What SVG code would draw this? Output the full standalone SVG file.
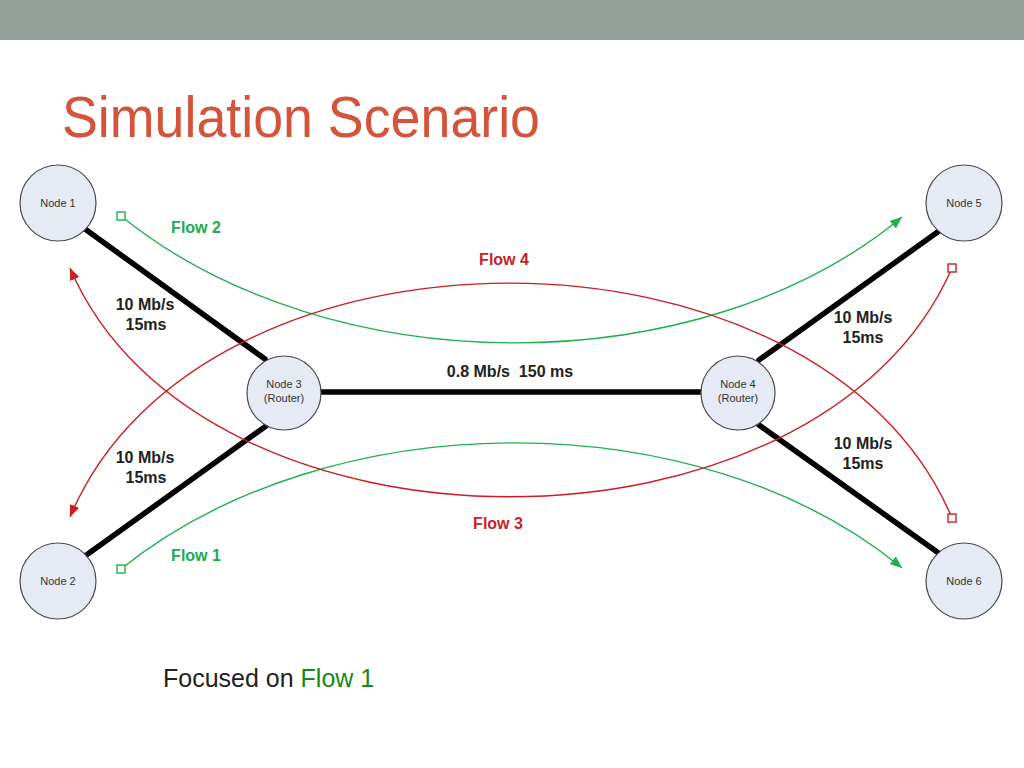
<svg xmlns="http://www.w3.org/2000/svg" width="1024" height="768" viewBox="0 0 1024 768">
<defs>
<style>
.node circle{fill:#E5EAF4;stroke:#4a4a4a;stroke-width:1.2}
.node text{font-family:"Liberation Sans",Arial,sans-serif;font-size:11px;fill:#333;text-anchor:middle}
.link{stroke:#000;stroke-width:5.5;stroke-linecap:round;fill:none}
.lbl{font-family:"Liberation Sans",Arial,sans-serif;font-size:16px;font-weight:bold;fill:#222;text-anchor:middle}
.g{stroke:#22B04F;stroke-width:1.4;fill:none}
.r{stroke:#C81E24;stroke-width:1.4;fill:none}
.gsq{stroke:#22B04F;stroke-width:1.4;fill:#fff}
.rsq{stroke:#C81E24;stroke-width:1.4;fill:#fff}
.gl{font-family:"Liberation Sans",Arial,sans-serif;font-size:16px;font-weight:bold;fill:#22AA50;text-anchor:middle}
.rl{font-family:"Liberation Sans",Arial,sans-serif;font-size:16px;font-weight:bold;fill:#C81E24;text-anchor:middle}
</style>
<marker id="ag" markerUnits="userSpaceOnUse" markerWidth="12" markerHeight="10" refX="12" refY="5" orient="auto"><path d="M0,0 L12,5 L0,10 z" fill="#22B04F"/></marker>
<marker id="ar" markerUnits="userSpaceOnUse" markerWidth="12" markerHeight="10" refX="12" refY="5" orient="auto"><path d="M0,0 L12,5 L0,10 z" fill="#C81E24"/></marker>
</defs>
<rect x="0" y="0" width="1024" height="768" fill="#fff"/>
<rect x="0" y="0" width="1024" height="40" fill="#94A19A"/>
<text x="62" y="137" font-family="'Liberation Sans',Arial,sans-serif" font-size="58" fill="#D4533A" textLength="478" lengthAdjust="spacingAndGlyphs">Simulation Scenario</text>

<g id="connectors">
<line class="link" x1="85" y1="229" x2="265" y2="359"/>
<line class="link" x1="85" y1="556" x2="266" y2="426"/>
<line class="link" x1="321" y1="392" x2="700" y2="392"/>
<line class="link" x1="759" y1="360" x2="939" y2="231"/>
<line class="link" x1="759" y1="425" x2="940" y2="554"/>
<path class="g" d="M121,216 C330,385 700,385 902,217" marker-end="url(#ag)"/>
<path class="g" d="M121,569 C330,401 700,401 902,568" marker-end="url(#ag)"/>
<path class="r" d="M952,518 C819,205 200,205 70,517" marker-end="url(#ar)"/>
<path class="r" d="M952,268 C819,573 200,573 70,268" marker-end="url(#ar)"/>
<rect class="gsq" x="117" y="212" width="8" height="8"/>
<rect class="gsq" x="117" y="565" width="8" height="8"/>
<rect class="rsq" x="948" y="264" width="8" height="8"/>
<rect class="rsq" x="948" y="514" width="8" height="8"/>
<text class="lbl" x="145" y="310">10 Mb/s</text>
<text class="lbl" x="146" y="330">15ms</text>
<text class="lbl" x="145" y="463">10 Mb/s</text>
<text class="lbl" x="146" y="483">15ms</text>
<text class="lbl" x="863" y="323">10 Mb/s</text>
<text class="lbl" x="863" y="343">15ms</text>
<text class="lbl" x="863" y="449">10 Mb/s</text>
<text class="lbl" x="863" y="469">15ms</text>
<text class="lbl" x="510" y="377" xml:space="preserve">0.8 Mb/s  150 ms</text>
<text class="gl" x="196" y="233">Flow 2</text>
<text class="gl" x="196" y="561">Flow 1</text>
<text class="rl" x="504" y="265">Flow 4</text>
<text class="rl" x="498" y="529">Flow 3</text>
</g>

<g id="node1" class="node"><circle cx="58" cy="203" r="38"/><text x="58" y="207">Node 1</text></g>
<g id="node2" class="node"><circle cx="58" cy="581" r="38"/><text x="58" y="585">Node 2</text></g>
<g id="node3" class="node"><circle cx="284" cy="393" r="37"/><text x="284" y="388">Node 3</text><text x="284" y="402">(Router)</text></g>
<g id="node4" class="node"><circle cx="738" cy="393" r="37"/><text x="738" y="388">Node 4</text><text x="738" y="402">(Router)</text></g>
<g id="node5" class="node"><circle cx="964" cy="203" r="38"/><text x="964" y="207">Node 5</text></g>
<g id="node6" class="node"><circle cx="964" cy="581" r="38"/><text x="964" y="585">Node 6</text></g>

<text x="163" y="687" font-family="'Liberation Sans',Arial,sans-serif" font-size="25" fill="#222">Focused on <tspan fill="#148A14">Flow 1</tspan></text>
</svg>
